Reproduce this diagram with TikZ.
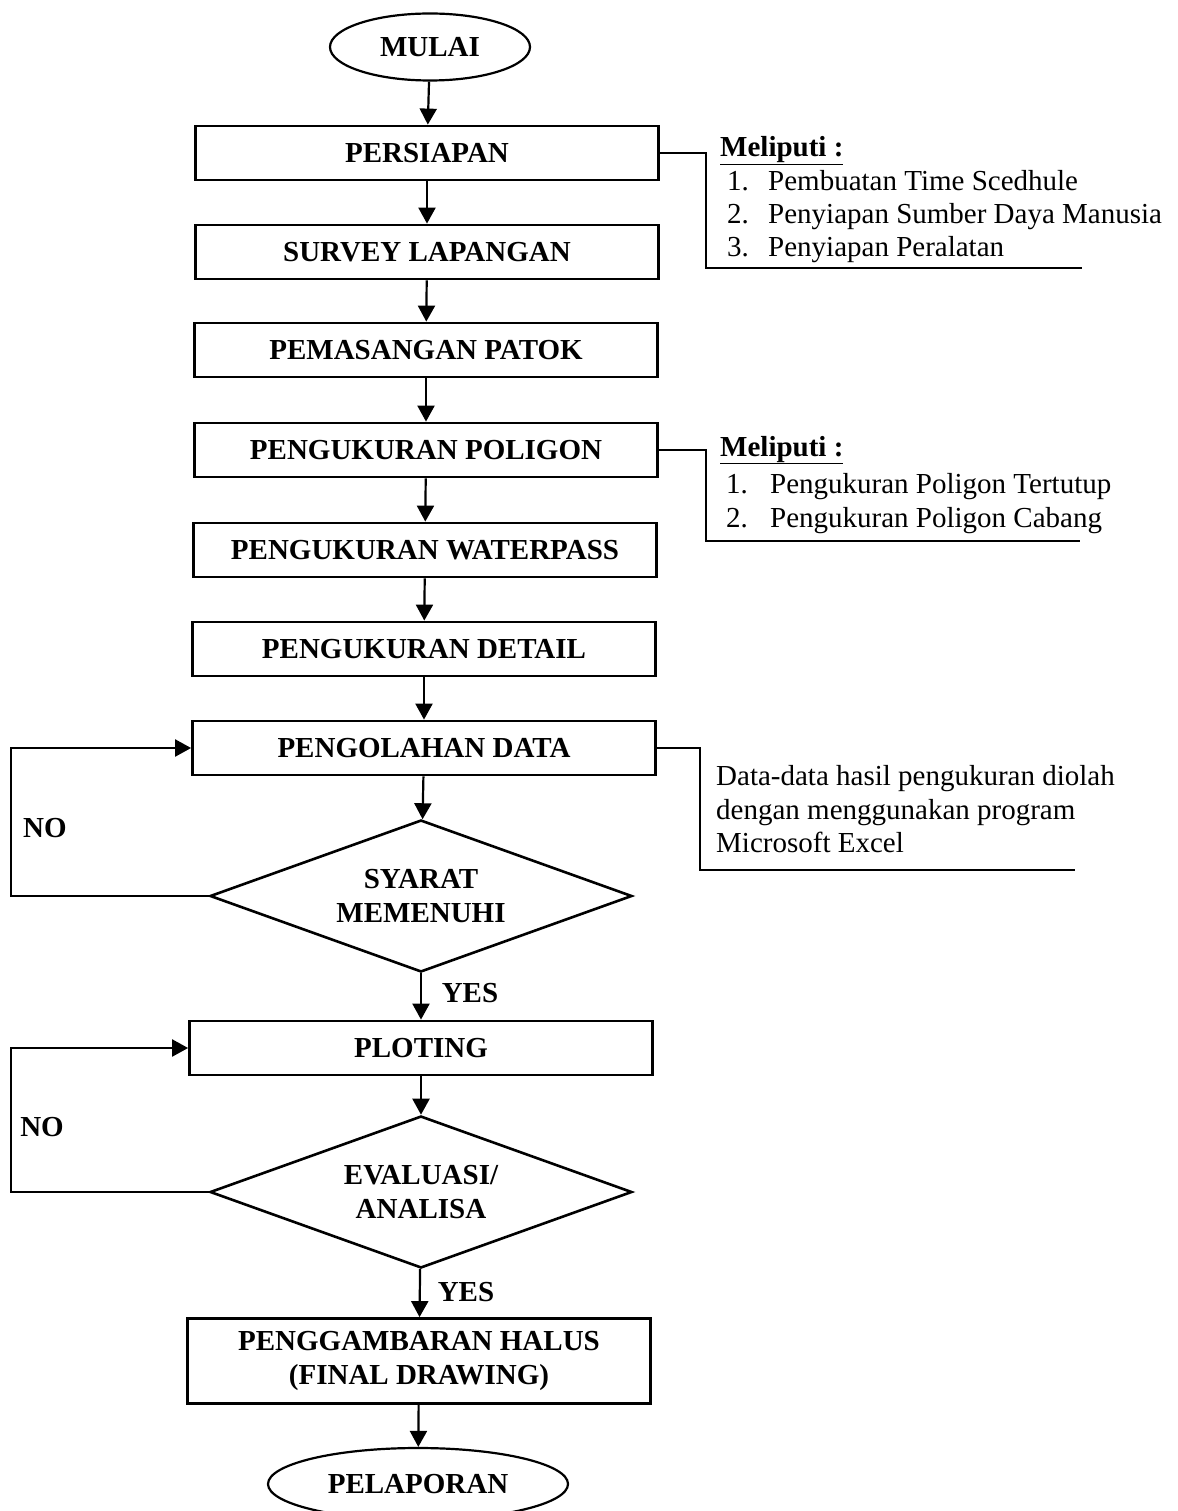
\documentclass[tikz,border=0pt]{standalone}
\usepackage{fontspec}
\setmainfont{Liberation Serif}
\usetikzlibrary{shapes.geometric,arrows.meta}
\begin{document}
\begin{tikzpicture}[x=1pt,y=-1pt,
  every node/.style={font=\fontsize{29}{34}\selectfont},
  bx/.style={draw,line width=2.8pt,rectangle,minimum width=463pt,minimum height=54pt,inner sep=0pt,align=center,font=\fontsize{29}{34}\selectfont\bfseries},
  term/.style={draw,line width=2.2pt,ellipse,minimum width=200pt,minimum height=67pt,inner sep=0pt,font=\fontsize{29}{34}\selectfont\bfseries},
  decision/.style={draw,line width=2.6pt,diamond,aspect=2.78,minimum width=422pt,minimum height=152pt,inner sep=0pt,align=center,font=\fontsize{29}{34}\selectfont\bfseries},
  arr/.style={line width=2.2pt,-{Triangle[length=16pt,width=17pt]}},
  link/.style={line width=2.2pt},
  lbl/.style={font=\fontsize{29}{34}\selectfont\bfseries,inner sep=0pt},
  note/.style={font=\fontsize{29}{34}\selectfont,inner sep=0pt,anchor=base west}
]
\useasboundingbox (0,0) rectangle (1177,1511);

% main chain
\node[term] (mulai) at (430,47) {MULAI};
\node[bx] (persiapan) at (427,153) {PERSIAPAN};
\node[bx] (survey) at (427,252) {SURVEY LAPANGAN};
\node[bx] (patok) at (426,350) {PEMASANGAN PATOK};
\node[bx] (poligon) at (426,450) {PENGUKURAN POLIGON};
\node[bx] (waterpass) at (425,550) {PENGUKURAN WATERPASS};
\node[bx] (detail) at (424,649) {PENGUKURAN DETAIL};
\node[bx] (olah) at (424,748) {PENGOLAHAN DATA};
\node[decision] (syarat) at (421,896) {SYARAT\\MEMENUHI};
\node[bx] (ploting) at (421,1048) {PLOTING};
\node[decision] (eval) at (421,1192) {EVALUASI/\\ANALISA};
\node[bx,minimum height=85pt] (gambar) at (419,1361) {PENGGAMBARAN HALUS\\(FINAL DRAWING)};
\node[term,minimum width=300pt,minimum height=72pt] (lapor) at (418,1484) {PELAPORAN};

\draw[arr] (mulai) -- (persiapan);
\draw[arr] (persiapan) -- (survey);
\draw[arr] (survey) -- (patok);
\draw[arr] (patok) -- (poligon);
\draw[arr] (poligon) -- (waterpass);
\draw[arr] (waterpass) -- (detail);
\draw[arr] (detail) -- (olah);
\draw[arr] (olah) -- (syarat);
\draw[arr] (syarat) -- (ploting);
\draw[arr] (ploting) -- (eval);
\draw[arr] (eval) -- (gambar);
\draw[arr] (gambar) -- (lapor);

% NO loops
\draw[arr] (syarat.west) -- ++(-198,0) |- (olah.west);
\draw[arr] (eval.west) -- ++(-198,0) |- (ploting.west);
\node[lbl] (no1) at (45,828) {NO};
\node[lbl] (no2) at (42,1127) {NO};
\node[lbl] (yes1) at (470,993) {YES};
\node[lbl] (yes2) at (466,1292) {YES};

% note 1
\coordinate (e1) at (1082,268);
\draw[link] (persiapan.east) -- (706,153) |- (e1);
\node[note,font=\fontsize{29}{34}\selectfont\bfseries] (m1) at (720,157) {\underline{Meliputi :}};
\node[note] (m1a) at (727,191) {1.};
\node[note] (m1b) at (768,191) {Pembuatan Time Scedhule};
\node[note] (m1c) at (727,224) {2.};
\node[note] (m1d) at (768,224) {Penyiapan Sumber Daya Manusia};
\node[note] (m1e) at (727,257) {3.};
\node[note] (m1f) at (768,257) {Penyiapan Peralatan};

% note 2
\coordinate (e2) at (1080,541);
\draw[link] (poligon.east) -- (706,450) |- (e2);
\node[note,font=\fontsize{29}{34}\selectfont\bfseries] (m2) at (720,456) {\underline{Meliputi :}};
\node[note] (m2a) at (726,493) {1.};
\node[note] (m2b) at (770,493) {Pengukuran Poligon Tertutup};
\node[note] (m2c) at (726,527) {2.};
\node[note] (m2d) at (770,527) {Pengukuran Poligon Cabang};

% note 3
\coordinate (e3) at (1075,870);
\draw[link] (olah.east) -- (700,748) |- (e3);
\node[note] (n3a) at (716,785) {Data-data hasil pengukuran diolah};
\node[note] (n3b) at (716,819) {dengan menggunakan program};
\node[note] (n3c) at (716,852) {Microsoft Excel};
\end{tikzpicture}
\end{document}
